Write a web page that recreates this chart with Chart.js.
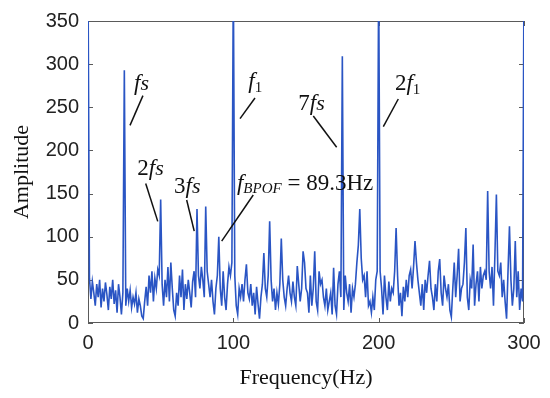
<!DOCTYPE html>
<html><head><meta charset="utf-8">
<script src="https://cdn.jsdelivr.net/npm/chart.js@4/dist/chart.umd.min.js"></script>
<style>html,body{margin:0;padding:0;background:#fff}#wrap{width:550px;height:398px}</style>
</head><body><div id="wrap"><canvas id="c" width="550" height="398"></canvas></div>
<script>
// ---- data ----
const freqStartHz = 0;
const freqStepHz = 1;
const amplitude = [
  400, 52, 28, 48, 35, 20, 45, 30, 50, 18,
  40, 25, 47, 33, 15, 42, 28, 50, 22, 38,
  12, 45, 30, 10, 35, 293, 20, 40, 25, 38,
  18, 30, 22, 35, 12, 28, 20, 8, 5, 25,
  42, 20, 55, 35, 60, 25, 52, 40, 62, 55,
  143, 45, 20, 50, 30, 65, 25, 70, 40, 15,
  8, 35, 20, 55, 30, 62, 15, 45, 28, 50,
  35, 18, 48, 60, 30, 132, 55, 40, 65, 50,
  30, 135, 60, 45, 30, 50, 25, 10, 40, 55,
  100, 40, 20, 60, 30, 15, 45, 65, 55, 70,
  400, 55, 20, 10, 40, 30, 45, 25, 50, 68,
  35, 28, 45, 20, 35, 10, 42, 22, 5, 30,
  45, 81, 40, 30, 55, 118, 50, 25, 40, 15,
  35, 22, 45, 98, 50, 30, 20, 40, 55, 35,
  25, 48, 30, 20, 66, 45, 25, 40, 83, 70,
  40, 35, 12, 55, 20, 40, 83, 25, 15, 60,
  45, 50, 30, 20, 40, 15, 25, 35, 10, 64,
  20, 10, 45, 60, 30, 309, 15, 55, 35, 25,
  45, 12, 40, 30, 45, 70, 90, 132, 75, 50,
  55, 30, 60, 20, 25, 12, 30, 15, 50, 60,
  400, 60, 40, 10, 55, 30, 15, 48, 25, 40,
  35, 60, 110, 55, 20, 35, 8, 42, 25, 50,
  30, 55, 62, 40, 65, 95, 70, 50, 35, 20,
  45, 15, 50, 35, 55, 72, 40, 30, 15, 45,
  25, 60, 74, 35, 20, 55, 40, 30, 45, 15,
  7, 40, 70, 30, 55, 86, 25, 40, 45, 70,
  110, 30, 15, 50, 40, 91, 20, 45, 60, 25,
  65, 40, 55, 60, 50, 153, 60, 40, 65, 20,
  80, 149, 60, 55, 70, 30, 50, 25, 5, 60,
  112, 50, 20, 40, 95, 30, 60, 15, 40, 25,
  400
];
const xTicks = [0, 100, 200, 300];
const yTicks = [0, 50, 100, 150, 200, 250, 300, 350];
const xTitle = 'Frequency(Hz)';
const yTitle = 'Amplitude';

// ---- build ----
const points = amplitude.map((a, i) => ({x: freqStartHz + i * freqStepHz, y: a}));

// annotation anchors (data coordinates) and styles
const notes = [
  {at: [31.7, 270], parts: [['f', 1, 23], ['s', 1, 22]], line: [[28.9, 229], [37.8, 263.5]]},
  {at: [33.9, 171], parts: [['2', 0, 23], ['f', 1, 23], ['s', 1, 22]], line: [[39.7, 161.6], [48.0, 117.8]]},
  {at: [59.2, 150.2], parts: [['3', 0, 23], ['f', 1, 23], ['s', 1, 22]], line: [[67.9, 142.6], [73.1, 106.4]]},
  {at: [102.5, 154.4], parts: [['f', 1, 23], ['BPOF', 1, 15, 3], [' = 89.3Hz', 0, 23]], line: [[113.7, 148.3], [92.0, 94.9]]},
  {at: [110.3, 272.2], parts: [['f', 1, 23], ['1', 0, 15, 4]], line: [[114.9, 260.8], [104.6, 236.8]]},
  {at: [144.7, 247.4], parts: [['7', 0, 23], ['f', 1, 23], ['s', 1, 22]], line: [[155.0, 239.9], [171.1, 203.6]]},
  {at: [211.2, 270.3], parts: [['2', 0, 23], ['f', 1, 23], ['1', 0, 15, 4]], line: [[213.5, 259.6], [203.2, 227.6]]}
];

const framePlugin = {
  id: 'frame',
  beforeDatasetsDraw(chart) {
    const {ctx, chartArea: a, scales: {x, y}} = chart;
    ctx.save();
    ctx.strokeStyle = '#5a5a5a';
    ctx.lineWidth = 1;
    ctx.strokeRect(a.left + 0.5, a.top + 0.5, a.right - a.left - 1, a.bottom - a.top - 1);
    const L = 5;
    ctx.beginPath();
    xTicks.forEach(v => {
      const px = Math.round(x.getPixelForValue(v)) + 0.5;
      ctx.moveTo(px, a.bottom); ctx.lineTo(px, a.bottom - L);
      ctx.moveTo(px, a.top); ctx.lineTo(px, a.top + L);
    });
    yTicks.forEach(v => {
      const py = Math.round(y.getPixelForValue(v)) + 0.5;
      ctx.moveTo(a.left, py); ctx.lineTo(a.left + L, py);
      ctx.moveTo(a.right, py); ctx.lineTo(a.right - L, py);
    });
    ctx.stroke();
    ctx.restore();
  },
  afterDatasetsDraw(chart) {
    const {ctx, scales: {x, y}} = chart;
    ctx.save();
    ctx.fillStyle = '#111';
    ctx.strokeStyle = '#111';
    ctx.lineWidth = 1.5;
    ctx.textBaseline = 'alphabetic';
    ctx.textAlign = 'left';
    notes.forEach(n => {
      let cx = x.getPixelForValue(n.at[0]);
      const cy = y.getPixelForValue(n.at[1]);
      n.parts.forEach(([t, it, sz, dy]) => {
        ctx.font = (it ? 'italic ' : '') + sz + 'px "Liberation Serif", "DejaVu Serif", serif';
        ctx.fillText(t, cx, cy + (dy || 0));
        cx += ctx.measureText(t).width;
      });
      ctx.beginPath();
      ctx.moveTo(x.getPixelForValue(n.line[0][0]), y.getPixelForValue(n.line[0][1]));
      ctx.lineTo(x.getPixelForValue(n.line[1][0]), y.getPixelForValue(n.line[1][1]));
      ctx.stroke();
    });
    ctx.restore();
  }
};

const tickFont = {family: '"Liberation Sans", Arial, sans-serif', size: 20};
const titleFont = {family: '"Liberation Serif", "Times New Roman", serif', size: 22};

new Chart(document.getElementById('c'), {
  type: 'line',
  data: {
    datasets: [{
      data: points,
      borderColor: '#2a55c4',
      borderWidth: 1.6,
      pointRadius: 0,
      tension: 0,
      fill: false
    }]
  },
  options: {
    responsive: false,
    animation: false,
    devicePixelRatio: 1,
    layout: {padding: {left: 0, right: 26, top: 17, bottom: 0}},
    plugins: {legend: {display: false}, tooltip: {enabled: false}},
    scales: {
      x: {
        type: 'linear', min: 0, max: 300,
        afterBuildTicks: s => { s.ticks = xTicks.map(v => ({value: v})); },
        afterFit: s => { s.height = 75; },
        grid: {display: false, drawTicks: false},
        border: {display: false},
        ticks: {font: tickFont, color: '#222', padding: 8, maxRotation: 0, autoSkip: false},
        title: {display: true, text: xTitle, font: titleFont, color: '#111', padding: {top: 0, bottom: 7}}
      },
      y: {
        type: 'linear', min: 0, max: 350,
        afterBuildTicks: s => { s.ticks = yTicks.map(v => ({value: v})); },
        afterFit: s => { s.width = 88; },
        grid: {display: false, drawTicks: false},
        border: {display: false},
        ticks: {font: tickFont, color: '#222', padding: 9, autoSkip: false},
        title: {display: true, text: yTitle, font: titleFont, color: '#111', padding: {top: 9, bottom: 0}}
      }
    }
  },
  plugins: [framePlugin]
});
</script>
</body></html>
